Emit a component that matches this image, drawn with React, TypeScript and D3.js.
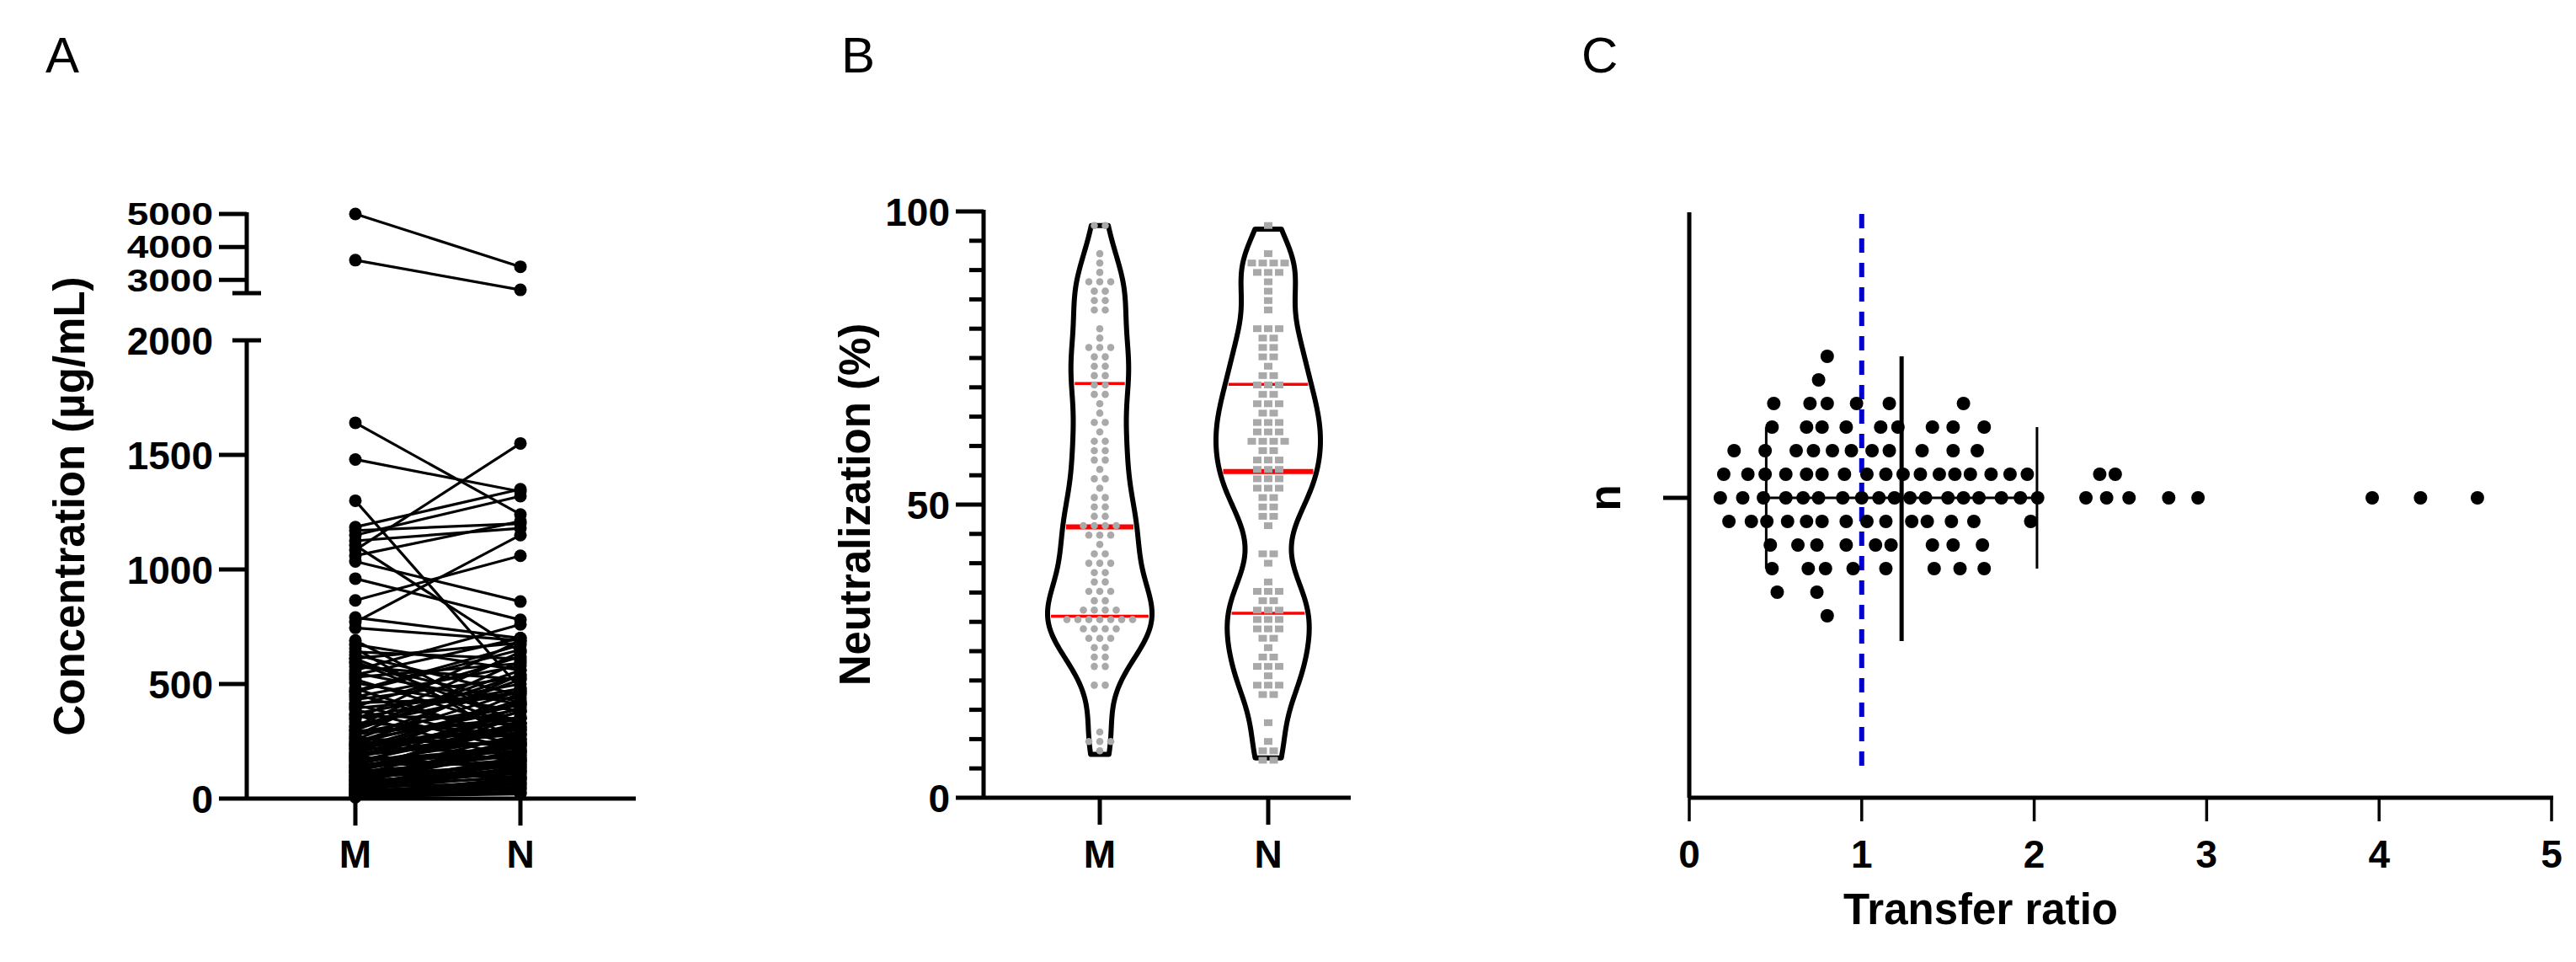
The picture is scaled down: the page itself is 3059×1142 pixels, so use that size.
import React from 'react';
import * as d3 from 'd3';

const W = 3059, H = 1142;
const FONT = "'Liberation Sans', Arial, Helvetica, sans-serif";

// ---------- Panel A: paired concentrations ----------
const concCategories = ['M', 'N'];
const concM = [5000, 3600, 1640, 1480, 1300, 1185, 1170, 1150, 1125, 1105,
  1085, 1060, 1035, 960, 865, 790, 770, 745, 690, 672,
  655, 640, 628, 612, 598, 575, 560, 548, 530, 505,
  470, 455, 432, 418, 402, 388, 371, 360, 344, 333,
  320, 309, 296, 288, 275, 263, 251, 246, 238, 229,
  221, 214, 206, 198, 192, 185, 178, 171, 166, 159,
  152, 148, 141, 136, 130, 124, 119, 113, 108, 102,
  97, 93, 88, 84, 79, 74, 70, 66, 61, 57,
  52, 48, 44, 40, 36, 31, 27, 23, 19, 15,
  12, 9, 6,
  610, 540, 480, 445, 395, 365, 315, 282, 258, 233, 217, 188, 174, 146, 127, 111, 82, 64, 46, 29,
  590, 520, 465, 410, 352, 300, 268, 243, 226, 201, 182, 163, 138, 117, 96, 77, 58, 38, 21, 10];
const concN = [3400, 2700, 1240, 1340, 480, 1350, 1200, 1320, 1180, 640,
  1550, 1210, 860, 780, 1060, 700, 1150, 690, 320, 560,
  240, 610, 450, 680, 300, 520, 760, 410, 590, 380,
  670, 260, 530, 440, 620, 210, 500, 350, 690, 280,
  470, 560, 330, 410, 600, 230, 390, 470, 310, 540,
  200, 350, 420, 250, 290, 380, 180, 460, 220, 330,
  270, 150, 400, 190, 310, 240, 170, 360, 140, 280,
  120, 230, 200, 160, 260, 110, 210, 130, 90, 180,
  150, 70, 120, 100, 60, 140, 80, 50, 90, 40,
  70, 30, 25,
  330, 700, 250, 580, 460, 170, 640, 350, 520, 300, 430, 260, 380, 210, 330, 190, 240, 110, 160, 60,
  420, 300, 650, 230, 480, 540, 160, 410, 280, 350, 130, 310, 240, 90, 200, 120, 170, 45, 85, 20];
const concTicksLow = [0, 500, 1000, 1500];
const concTicksHigh = [3000, 4000, 5000];
const concBreakLow = 2000;
const concBreakHigh = 2600;
const concMax = 5000;

// ---------- Panel B: neutralization ----------
const neutCategories = ['M', 'N'];
const neutM = [97.6, 97.6, 92.5, 90.8, 89.0, 88.5, 88.0, 87.2, 86.4, 86.0,
  85.5, 84.8, 83.0, 82.4, 80.1, 78.9, 77.4, 77.0, 76.3, 75.5,
  74.6, 74.0, 73.2, 72.1, 71.2, 70.8, 70.5, 69.6, 68.7, 67.0,
  65.1, 63.8, 63.3, 62.4, 61.1, 60.3, 59.5, 58.9, 58.2, 57.4,
  55.6, 55.1, 54.0, 52.3, 51.6, 50.9, 50.1, 49.5, 48.7, 47.9,
  46.3, 46.2, 46.0, 45.8, 45.5, 44.9, 44.1, 43.3, 42.2, 41.6,
  40.5, 39.7, 39.2, 38.9, 38.0, 37.4, 36.5, 35.8, 35.2, 34.6,
  34.0, 33.3, 32.8, 31.9, 31.5, 31.2, 31.0, 30.9, 30.8, 30.6,
  30.4, 30.2, 29.9, 29.5, 29.0, 28.8, 28.3, 27.7, 27.5, 26.7,
  25.9, 25.1, 24.3, 23.8, 22.6, 21.6, 19.9, 19.1, 11.0, 10.3,
  10.0, 9.5, 7.4];
const neutN = [97.0, 92.4, 91.9, 91.6, 91.2, 90.9, 90.3, 89.9, 89.6, 88.6,
  87.0, 85.6, 82.4, 80.6, 79.8, 79.3, 78.1, 77.7, 77.0, 76.4,
  75.3, 74.4, 73.8, 72.3, 71.6, 71.1, 70.3, 69.7, 69.4, 68.4,
  67.6, 66.9, 66.4, 65.9, 65.2, 64.7, 64.4, 63.8, 63.1, 62.8,
  62.2, 61.5, 61.3, 60.7, 60.0, 59.6, 58.9, 58.3, 57.6, 57.2,
  56.7, 55.9, 55.4, 54.9, 54.5, 53.8, 53.2, 52.7, 52.0, 51.4,
  50.6, 49.8, 49.2, 48.3, 47.6, 46.2, 41.8, 40.9, 39.8, 36.3,
  35.7, 35.2, 34.6, 34.0, 33.3, 32.8, 32.3, 31.7, 30.8, 30.3,
  29.8, 29.2, 28.7, 28.2, 27.4, 26.6, 25.3, 24.0, 23.5, 23.0,
  22.4, 21.8, 21.0, 19.2, 18.9, 18.6, 18.1, 17.9, 13.4, 9.4,
  8.0, 7.3, 7.0, 6.8];
const neutMajorTicks = [0, 50, 100];
const neutMinorStep = 5;

// ---------- Panel C: transfer ratio ----------
const transferRatio = [0.79, 0.49, 0.74, 0.83, 1.59,
  0.47, 0.56, 0.68, 0.75, 0.95, 1.14, 1.41, 1.52, 1.71,
  0.56, 0.63, 0.70, 0.80, 0.91, 1.03, 1.10, 1.17, 1.37, 1.53, 1.70,
  0.20, 0.31, 0.43, 0.51, 0.62, 0.69, 0.77, 0.91, 1.03, 1.11, 1.19, 1.29, 1.38, 1.45, 1.53, 1.75, 1.86, 1.96, 2.38, 2.47,
  0.23, 0.36, 0.44, 0.68, 0.77, 0.91, 1.00, 1.08, 1.16, 1.24, 1.35, 1.42, 1.50, 1.57, 1.65, 1.98, 2.30, 2.42, 2.55, 2.78, 2.95, 3.96, 4.24, 4.57,
  0.18, 0.26, 0.34, 0.44, 0.72, 0.80, 0.89, 0.97, 1.14, 1.28, 1.41, 1.53, 1.63, 1.71, 1.81, 1.92, 2.02,
  0.48, 0.68, 0.77, 0.90, 1.06, 1.14, 1.21, 1.34, 1.54, 1.68,
  0.48, 0.57, 0.66, 0.74, 0.94, 1.16, 1.59, 1.67,
  0.45, 0.75, 0.80];
const transferTicks = [0, 1, 2, 3, 4, 5];
const transferReference = 1;

const AX = 5; // axis stroke
const TICK_FS = 46;
const TITLE_FS = 51;
const LETTER_FS = 60;

function PanelA() {
  const axisX = 293;
  const x = d3.scalePoint<string>().domain(concCategories).range([422, 618]);
  const yLow = d3.scaleLinear().domain([0, concBreakLow]).range([948, 404]);
  const yHigh = d3.scaleLinear().domain([concBreakHigh, concMax]).range([348, 254]);
  const y = (v: number) => (v <= concBreakLow ? yLow(v) : yHigh(v));
  const pairs = concM.map((m, i) => ({ m, n: concN[i] }));
  return (
    <g>
      <text x={54} y={86} fontSize={LETTER_FS} fontFamily={FONT}>A</text>
      {pairs.map((p, i) => (
        <line key={'l' + i} x1={x('M')} y1={y(p.m)} x2={x('N')} y2={y(p.n)} stroke="#000" strokeWidth={3.2} />
      ))}
      {pairs.map((p, i) => (
        <g key={'d' + i}>
          <circle cx={x('M')} cy={y(p.m)} r={7.5} fill="#000" />
          <circle cx={x('N')} cy={y(p.n)} r={7.5} fill="#000" />
        </g>
      ))}
      <line x1={axisX} y1={yLow(0)} x2={axisX} y2={yLow(concBreakLow)} stroke="#000" strokeWidth={AX} />
      <line x1={axisX} y1={yHigh(concBreakHigh)} x2={axisX} y2={yHigh(concMax) - 2} stroke="#000" strokeWidth={AX} />
      <line x1={axisX - 17} y1={yLow(concBreakLow)} x2={axisX + 17} y2={yLow(concBreakLow)} stroke="#000" strokeWidth={AX} />
      <line x1={axisX - 17} y1={yHigh(concBreakHigh)} x2={axisX + 17} y2={yHigh(concBreakHigh)} stroke="#000" strokeWidth={AX} />
      {concTicksLow.map(t => (
        <g key={'tl' + t}>
          <line x1={axisX - 33} x2={axisX} y1={yLow(t)} y2={yLow(t)} stroke="#000" strokeWidth={AX} />
          <text x={axisX - 40} y={yLow(t)} dy="0.36em" textAnchor="end" fontSize={TICK_FS} fontWeight="bold" fontFamily={FONT}>{t}</text>
        </g>
      ))}
      <text x={axisX - 40} y={yLow(concBreakLow)} dy="0.36em" textAnchor="end" fontSize={TICK_FS} fontWeight="bold" fontFamily={FONT}>{concBreakLow}</text>
      {concTicksHigh.map(t => (
        <g key={'th' + t}>
          <line x1={axisX - 33} x2={axisX} y1={yHigh(t)} y2={yHigh(t)} stroke="#000" strokeWidth={AX} />
          <text transform={`translate(${axisX - 40},${yHigh(t)}) scale(1,0.8)`} dy="0.36em" textAnchor="end" fontSize={TICK_FS} fontWeight="bold" fontFamily={FONT}>{t}</text>
        </g>
      ))}
      <line x1={axisX} x2={755} y1={yLow(0)} y2={yLow(0)} stroke="#000" strokeWidth={AX} />
      {concCategories.map(c => (
        <g key={c}>
          <line x1={x(c)} x2={x(c)} y1={yLow(0)} y2={yLow(0) + 32} stroke="#000" strokeWidth={AX} />
          <text x={x(c)} y={1030} textAnchor="middle" fontSize={TICK_FS} fontWeight="bold" fontFamily={FONT}>{c}</text>
        </g>
      ))}
      <text transform={`translate(100,${(yLow(0) + yHigh(concMax)) / 2}) rotate(-90)`} textAnchor="middle" fontSize={TITLE_FS} fontWeight="bold" fontFamily={FONT}>Concentration (µg/mL)</text>
    </g>
  );
}

function kdeAt(values: number[], bw: number, t: number) {
  return d3.mean(values, v => Math.exp(-0.5 * ((t - v) / bw) ** 2))!;
}

function kdeProfile(values: number[], bw: number) {
  const lo = d3.min(values)!, hi = d3.max(values)!;
  const pts: { t: number; d: number }[] = [];
  const n = 160;
  for (let i = 0; i <= n; i++) {
    const t = lo + (hi - lo) * (i / n);
    pts.push({ t, d: kdeAt(values, bw, t) });
  }
  return pts;
}

function binDots(values: number[], binSize: number) {
  const groups = d3.groups(values, v => Math.round(v / binSize));
  const out: { v: number; off: number }[] = [];
  groups.forEach(([b, vs]) => {
    const k = vs.length;
    vs.forEach((_, i) => out.push({ v: b * binSize, off: i - (k - 1) / 2 }));
  });
  return out;
}

function PanelB() {
  const axisX = 1168;
  const y = d3.scaleLinear().domain([0, 100]).range([947, 251]);
  const x = d3.scalePoint<string>().domain(neutCategories).range([1306, 1506]);
  const series = [neutM, neutN];
  const halfMax = 62;
  const bw = 5.4;
  const minorTicks = d3.range(0, 100 + 0.001, neutMinorStep);
  return (
    <g>
      <text x={999} y={86} fontSize={LETTER_FS} fontFamily={FONT}>B</text>
      {series.map((vals, si) => {
        const cx = x(neutCategories[si])!;
        const prof = kdeProfile(vals, bw);
        const dMax = d3.max(prof, p => p.d)!;
        const wScale = d3.scaleLinear().domain([0, dMax]).range([0, halfMax]);
        const area = d3.area<{ t: number; d: number }>()
          .y(p => y(p.t))
          .x0(p => cx - wScale(p.d))
          .x1(p => cx + wScale(p.d))
          .curve(d3.curveCatmullRom);
        const sorted = vals.slice().sort(d3.ascending);
        const qs = [0.25, 0.5, 0.75].map(q => d3.quantile(sorted, q)!);
        const widthAt = (t: number) => wScale(kdeAt(vals, bw, t));
        const dots = binDots(sorted, 1.6);
        return (
          <g key={si}>
            <path d={area(prof)!} fill="#fff" stroke="#000" strokeWidth={6} strokeLinejoin="round" />
            {qs.map((q, qi) => (
              <line key={qi} x1={cx - widthAt(q) + 4} x2={cx + widthAt(q) - 4} y1={y(q)} y2={y(q)} stroke="#ff0000" strokeWidth={qi === 1 ? 6 : 3.5} />
            ))}
            {dots.map((d, di) => si === 0 ? (
              <circle key={di} cx={cx + d.off * 13} cy={y(d.v)} r={4.3} fill="#a9a9a9" />
            ) : (
              <rect key={di} x={cx + d.off * 13 - 5} y={y(d.v) - 4} width={10} height={8} fill="#a9a9a9" />
            ))}
          </g>
        );
      })}
      <line x1={axisX} x2={axisX} y1={y(0)} y2={y(100) - 2} stroke="#000" strokeWidth={AX} />
      {minorTicks.map(t => {
        const major = neutMajorTicks.includes(t);
        return <line key={t} x1={axisX - (major ? 33 : 17)} x2={axisX} y1={y(t)} y2={y(t)} stroke="#000" strokeWidth={AX} />;
      })}
      {neutMajorTicks.map(t => (
        <text key={t} x={axisX - 40} y={y(t)} dy="0.36em" textAnchor="end" fontSize={TICK_FS} fontWeight="bold" fontFamily={FONT}>{t}</text>
      ))}
      <line x1={axisX} x2={1604} y1={y(0)} y2={y(0)} stroke="#000" strokeWidth={AX} />
      {neutCategories.map(c => (
        <g key={c}>
          <line x1={x(c)} x2={x(c)} y1={y(0)} y2={y(0) + 32} stroke="#000" strokeWidth={AX} />
          <text x={x(c)} y={1030} textAnchor="middle" fontSize={TICK_FS} fontWeight="bold" fontFamily={FONT}>{c}</text>
        </g>
      ))}
      <text transform={`translate(1033,${y(50)}) rotate(-90)`} textAnchor="middle" fontSize={TITLE_FS} fontWeight="bold" fontFamily={FONT}>Neutralization (%)</text>
    </g>
  );
}

function PanelC() {
  const x = d3.scaleLinear().domain([0, 5]).range([2006, 3030]);
  const axisY = 947;
  const centerY = 591;
  const rowStep = 28;
  const r = 8;
  const minDist = 17;
  const sorted = transferRatio.slice().sort(d3.ascending);
  const rows = new Map<number, number[]>();
  const order = [0, 1, -1, 2, -2, 3, -3, 4, -4, 5, -5, 6, -6, 7, -7];
  const placed = sorted.map(v => {
    const px = x(v);
    for (const row of order) {
      const arr = rows.get(row) || [];
      if (arr.every(q => Math.abs(q - px) >= minDist)) {
        arr.push(px);
        rows.set(row, arr);
        return { px, py: centerY - row * rowStep };
      }
    }
    return { px, py: centerY };
  });
  const mean = d3.mean(transferRatio)!;
  const sd = d3.deviation(transferRatio)!;
  return (
    <g>
      <text x={1878} y={86} fontSize={LETTER_FS} fontFamily={FONT}>C</text>
      <line x1={x(transferReference)} x2={x(transferReference)} y1={254} y2={920} stroke="#0000cc" strokeWidth={6} strokeDasharray="17 12" />
      {placed.map((p, i) => <circle key={i} cx={p.px} cy={p.py} r={r} fill="#000" />)}
      <line x1={x(mean - sd)} x2={x(mean + sd)} y1={centerY} y2={centerY} stroke="#000" strokeWidth={3} />
      <line x1={x(mean - sd)} x2={x(mean - sd)} y1={centerY - 84} y2={centerY + 84} stroke="#000" strokeWidth={3} />
      <line x1={x(mean + sd)} x2={x(mean + sd)} y1={centerY - 84} y2={centerY + 84} stroke="#000" strokeWidth={3} />
      <line x1={x(mean)} x2={x(mean)} y1={centerY - 168} y2={centerY + 170} stroke="#000" strokeWidth={5} />
      <line x1={x(0)} x2={x(0)} y1={252} y2={axisY} stroke="#000" strokeWidth={AX} />
      <line x1={x(0) - 31} x2={x(0)} y1={centerY} y2={centerY} stroke="#000" strokeWidth={AX} />
      <text transform={`translate(1924,${centerY}) rotate(-90)`} textAnchor="middle" fontSize={TITLE_FS} fontWeight="bold" fontFamily={FONT}>n</text>
      <line x1={x(0)} x2={x(5) + 2} y1={axisY} y2={axisY} stroke="#000" strokeWidth={AX} />
      {transferTicks.map(t => (
        <g key={t}>
          <line x1={x(t)} x2={x(t)} y1={axisY} y2={axisY + 28} stroke="#000" strokeWidth={3.5} />
          <text x={x(t)} y={1030} textAnchor="middle" fontSize={TICK_FS} fontWeight="bold" fontFamily={FONT}>{t}</text>
        </g>
      ))}
      <text x={2352} y={1097} textAnchor="middle" fontSize={TITLE_FS} fontWeight="bold" fontFamily={FONT}>Transfer ratio</text>
    </g>
  );
}

export default function App() {
  return (
    <svg width={W} height={H} viewBox={`0 0 ${W} ${H}`} style={{ position: 'absolute', left: 0, top: 0, background: '#fff', display: 'block' }}>
      <rect x={0} y={0} width={W} height={H} fill="#fff" />
      <PanelA />
      <PanelB />
      <PanelC />
    </svg>
  );
}
